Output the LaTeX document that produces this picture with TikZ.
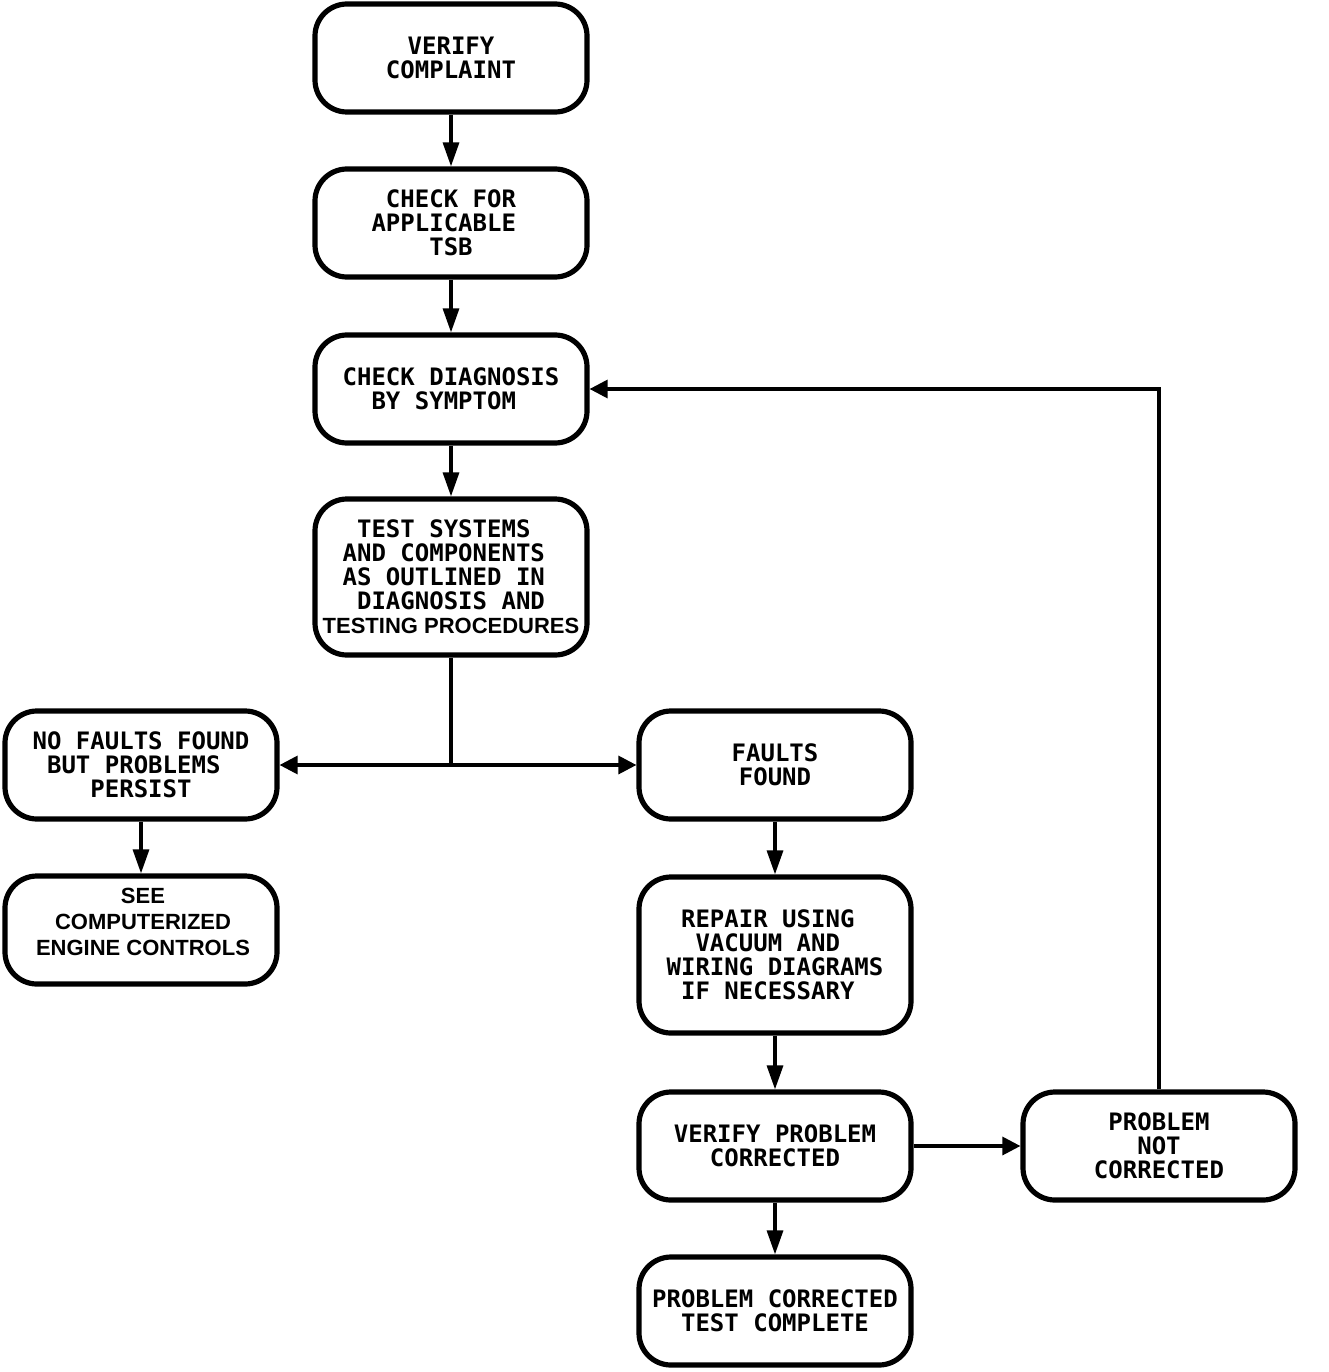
\documentclass[tikz,border=0pt]{standalone}
\usepackage{fontspec}
\usetikzlibrary{arrows.meta}
\newfontfamily\monob{DejaVu Sans Mono}
\newfontfamily\arialb{Liberation Sans}
\newcommand\tsp{\hphantom{X}}
\begin{document}
\begin{tikzpicture}[x=1pt,y=-1pt]
\useasboundingbox (0,0) rectangle (1328,1372);
\tikzset{
  box/.style={draw, line width=5.2pt, rounded corners=32pt, minimum width=272pt,
    minimum height=108pt, align=center, inner sep=0pt,
    font=\monob\bfseries\fontsize{24}{24}\selectfont},
  tall/.style={box, minimum height=156pt},
  sanstext/.style={align=center, inner sep=0pt, font=\arialb\bfseries\fontsize{22}{26}\selectfont},
  conn/.style={line width=3.2pt},
  varr/.style={conn, -{Triangle[length=24pt,width=16pt]}},
  harr/.style={conn, -{Triangle[length=18pt,width=18pt]}}
}
\node[box]  (b1)  at (451,58)   {VERIFY\\COMPLAINT};
\node[box]  (b2)  at (451,223)  {CHECK FOR\\APPLICABLE\tsp\\TSB};
\node[box]  (b3)  at (451,389)  {CHECK DIAGNOSIS\\BY SYMPTOM\tsp};
\node[tall] (b4)  at (451,577)  {TEST SYSTEMS\tsp\\AND COMPONENTS\tsp\\AS OUTLINED IN\tsp\\DIAGNOSIS AND\\{\arialb\bfseries\fontsize{22}{24}\selectfont TESTING PROCEDURES}};
\node[box]  (b5)  at (141,765)  {NO FAULTS FOUND\\BUT PROBLEMS\tsp\\PERSIST};
\node[box]  (b6)  at (141,930)  {};
\node[sanstext] (t6) at (143,922) {SEE\\COMPUTERIZED\\ENGINE CONTROLS};
\node[box]  (b7)  at (775,765)  {FAULTS\\FOUND};
\node[tall] (b8)  at (775,955)  {REPAIR USING\tsp\\VACUUM AND\tsp\\WIRING DIAGRAMS\\IF NECESSARY\tsp};
\node[box]  (b9)  at (775,1146) {VERIFY PROBLEM\\CORRECTED};
\node[box]  (b10) at (775,1311) {PROBLEM CORRECTED\\TEST COMPLETE};
\node[box]  (b11) at (1159,1146) {PROBLEM\\NOT\\CORRECTED};
\coordinate (j) at (b4.south |- b5.east);
\draw[varr] (b1) -- (b2);
\draw[varr] (b2) -- (b3);
\draw[varr] (b3) -- (b4);
\draw[conn] (b4.south) -- (j);
\draw[harr] (j) -- (b5);
\draw[harr] (j) -- (b7);
\draw[varr] (b5) -- (b6);
\draw[varr] (b7) -- (b8);
\draw[varr] (b8) -- (b9);
\draw[varr] (b9) -- (b10);
\draw[harr] (b9) -- (b11);
\draw[harr] (b11.north) |- (b3.east);
\end{tikzpicture}
\end{document}
